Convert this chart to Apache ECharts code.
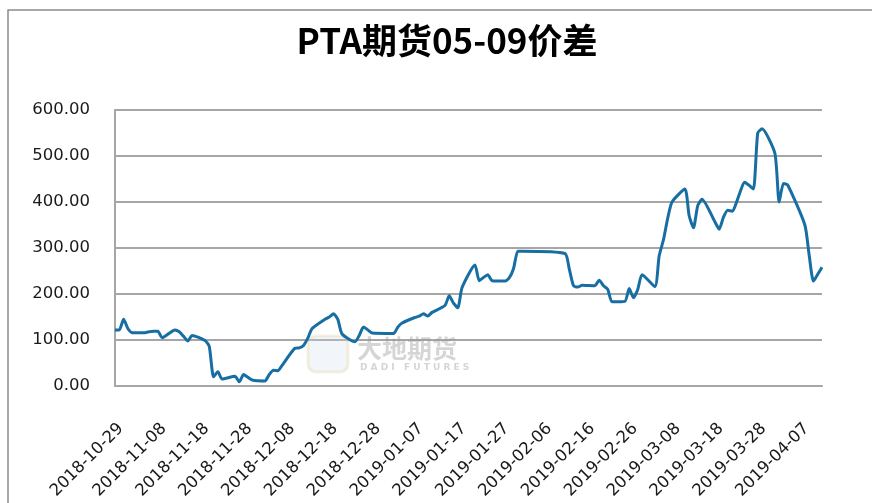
<!DOCTYPE html>
<html>
<head>
<meta charset="utf-8">
<script src="https://cdn.jsdelivr.net/npm/echarts@6/dist/echarts.min.js"></script>
<style>
html,body{margin:0;padding:0;background:#fff;}
#main{width:872px;height:503px;}
</style>
</head>
<body>
<div id="main"></div>
<script>
const titleText = 'PTA期货05-09价差';
const startDate = '2018-10-29';
const endDate = '2019-04-12';
const dates = [
'2018-10-29','2018-10-30','2018-10-31','2018-11-01','2018-11-02',
'2018-11-05','2018-11-06','2018-11-07','2018-11-08','2018-11-09',
'2018-11-12','2018-11-13','2018-11-14','2018-11-15','2018-11-16',
'2018-11-19','2018-11-20','2018-11-21','2018-11-22','2018-11-23',
'2018-11-26','2018-11-27','2018-11-28','2018-11-29','2018-11-30',
'2018-12-03','2018-12-04','2018-12-05','2018-12-06','2018-12-07',
'2018-12-10','2018-12-11','2018-12-12','2018-12-13','2018-12-14',
'2018-12-17','2018-12-18','2018-12-19','2018-12-20','2018-12-21',
'2018-12-24','2018-12-25','2018-12-26','2018-12-27','2018-12-28',
'2019-01-02','2019-01-03','2019-01-04',
'2019-01-07','2019-01-08','2019-01-09','2019-01-10','2019-01-11',
'2019-01-14','2019-01-15','2019-01-16','2019-01-17','2019-01-18',
'2019-01-21','2019-01-22','2019-01-23','2019-01-24','2019-01-25',
'2019-01-28','2019-01-29','2019-01-30','2019-01-31','2019-02-01',
'2019-02-11','2019-02-12','2019-02-13','2019-02-14','2019-02-15',
'2019-02-18','2019-02-19','2019-02-20','2019-02-21','2019-02-22',
'2019-02-25','2019-02-26','2019-02-27','2019-02-28','2019-03-01',
'2019-03-04','2019-03-05','2019-03-06','2019-03-07','2019-03-08',
'2019-03-11','2019-03-12','2019-03-13','2019-03-14','2019-03-15',
'2019-03-18','2019-03-19','2019-03-20','2019-03-21','2019-03-22',
'2019-03-25','2019-03-26','2019-03-27','2019-03-28','2019-03-29',
'2019-04-01','2019-04-02','2019-04-03','2019-04-04',
'2019-04-08','2019-04-09','2019-04-10','2019-04-11','2019-04-12'
];
const spread = [
122,122,145,125,116,
116,118,119,119,105,
122,118,108,98,110,
99,86,20,31,15,
21,9,25,19,13,
11,25,34,33,45,
82,83,88,104,125,
145,150,157,145,113,
96,110,128,122,115,
114,128,137,
149,152,157,152,160,
175,196,180,170,214,
263,229,236,242,229,
228,235,255,293,293,
288,255,218,215,219,
218,230,218,210,183,
184,212,192,210,242,
216,283,318,365,400,
428,370,344,392,406,
357,341,367,382,380,
443,436,428,550,559,
506,400,440,437,
350,285,228,243,258
];
const yTicks = [0,100,200,300,400,500,600];

const DAY = 86400000;
const t0 = Date.parse(startDate + 'T00:00:00Z');
const dayIdx = s => Math.round((Date.parse(s + 'T00:00:00Z') - t0) / DAY);
const fmtDay = d => new Date(t0 + d * DAY).toISOString().slice(0, 10);
const seriesData = dates.map((d, i) => [dayIdx(d), spread[i]]);

const chart = echarts.init(document.getElementById('main'), null, {renderer: 'canvas'});
chart.setOption({
  animation: false,
  backgroundColor: '#ffffff',
  grid: {left: 115, right: 50, top: 110, bottom: 117, containLabel: false},
  xAxis: {
    type: 'value',
    min: 0,
    max: dayIdx(endDate),
    interval: 10,
    axisLine: {show: true, lineStyle: {color: '#a6a6a6', width: 2}},
    axisTick: {show: false},
    splitLine: {show: false},
    axisLabel: {
      rotate: 45,
      margin: 34,
      align: 'right',
      verticalAlign: 'top',
      color: '#1a1a1a',
      fontFamily: 'DejaVu Sans',
      fontSize: 16.5,
      showMaxLabel: false,
      formatter: v => fmtDay(v)
    }
  },
  yAxis: {
    type: 'value',
    min: yTicks[0],
    max: yTicks[yTicks.length - 1],
    interval: 100,
    axisLine: {show: true, lineStyle: {color: '#a6a6a6', width: 2}},
    axisTick: {show: false},
    splitLine: {show: true, lineStyle: {color: '#a6a6a6', width: 2}},
    axisLabel: {
      margin: 25,
      color: '#1a1a1a',
      fontFamily: 'DejaVu Sans',
      fontSize: 16.5,
      formatter: v => v.toFixed(2)
    }
  },
  graphic: [
    {type: 'polyline', silent: true, z: 0,
     shape: {points: [[8, 503], [8, 10], [872, 10]]},
     style: {stroke: '#8c8c8c', lineWidth: 1.5, fill: null}},
    {type: 'text', x: 447, y: 41, z: 10,
     style: {text: titleText, fill: '#000', font: 'bold 35px "Noto Sans CJK SC"',
             textAlign: 'center', textVerticalAlign: 'middle'}},
    {type: 'rect', x: 308, y: 336, z: 1, silent: true,
     shape: {width: 40, height: 36, r: 8},
     style: {fill: 'rgba(205,215,230,0.25)', stroke: 'rgba(225,205,150,0.3)', lineWidth: 3}},
    {type: 'text', x: 357, y: 348, z: 1, silent: true,
     style: {text: '大地期货', fill: 'rgba(150,150,150,0.4)', font: 'bold 25px "Noto Sans CJK SC"',
             textAlign: 'left', textVerticalAlign: 'middle'}},
    {type: 'text', x: 360, y: 368, z: 1, silent: true,
     style: {text: 'D A D I   F U T U R E S', fill: 'rgba(150,150,150,0.4)', font: 'bold 9px "DejaVu Sans"',
             textAlign: 'left', textVerticalAlign: 'middle'}}
  ],
  series: [{
    type: 'line',
    data: seriesData,
    showSymbol: false,
    smooth: 0.2,
    lineStyle: {color: '#176ea3', width: 3},
    z: 5
  }]
});
</script>
</body>
</html>
